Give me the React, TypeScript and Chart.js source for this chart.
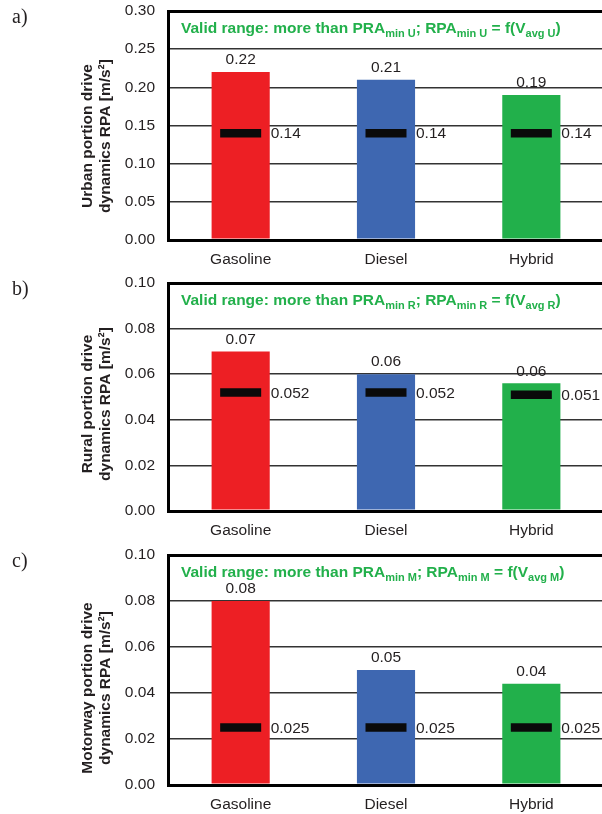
import React, { useEffect, useRef } from "react";
import { Chart, registerables } from "chart.js";

Chart.register(...registerables);

const categories = ["Gasoline", "Diesel", "Hybrid"];
const barColors = ["#ED1F24", "#3E67B1", "#22B04B"];

const urbanValues = [0.22, 0.21, 0.19];
const urbanMin = [0.14, 0.14, 0.14];
const ruralValues = [0.07, 0.06, 0.056];
const ruralMin = [0.052, 0.052, 0.051];
const motorwayValues = [0.08, 0.05, 0.044];
const motorwayMin = [0.025, 0.025, 0.025];

const urbanTitle = ["Urban portion drive", "dynamics RPA [m/s²]"];
const ruralTitle = ["Rural portion drive", "dynamics RPA [m/s²]"];
const motorwayTitle = ["Motorway portion drive", "dynamics RPA [m/s²]"];

const SANS = "'Liberation Sans', Arial, Helvetica, sans-serif";
const SERIF = "'Liberation Serif', 'Times New Roman', serif";
const TEXT = "#231f20";
const GREEN = "#22B04B";

type PanelProps = {
  top: number;
  height: number;
  padTop: number;
  xH: number;
  values: number[];
  mins: number[];
  yMax: number;
  step: number;
  dec: number;
  title: string[];
  titleY: number;
  sub: string;
  label: string;
};

function Panel(p: PanelProps) {
  const ref = useRef<HTMLCanvasElement | null>(null);
  useEffect(() => {
    const canvas = ref.current!;
    const overlay = {
      id: "overlay",
      afterDatasetsDraw(chart: any) {
        const ctx = chart.ctx as CanvasRenderingContext2D;
        const area = chart.chartArea;
        const barMeta = chart.getDatasetMeta(0);
        const minMeta = chart.getDatasetMeta(1);
        ctx.save();
        // value labels
        ctx.fillStyle = TEXT;
        ctx.font = `15.5px ${SANS}`;
        ctx.textAlign = "center";
        ctx.textBaseline = "middle";
        barMeta.data.forEach((bar: any, i: number) => {
          ctx.fillText(p.values[i].toFixed(2), bar.x, bar.y - 12);
        });
        ctx.textAlign = "left";
        minMeta.data.forEach((pt: any, i: number) => {
          ctx.fillText(String(p.mins[i]), pt.x + 30, pt.y + 1);
        });
        // green annotation
        let x = 181;
        const base = area.top + 22;
        ctx.fillStyle = GREEN;
        ctx.textBaseline = "alphabetic";
        const segs: [string, boolean][] = [
          ["Valid range: more than PRA", false],
          ["min " + p.sub, true],
          ["; RPA", false],
          ["min " + p.sub, true],
          [" = f(V", false],
          ["avg " + p.sub, true],
          [")", false],
        ];
        segs.forEach(([t, isSub]) => {
          ctx.font = isSub ? `bold 11px ${SANS}` : `bold 15.5px ${SANS}`;
          ctx.fillText(t, x, isSub ? base + 4 : base);
          x += ctx.measureText(t).width;
        });
        // y title
        ctx.fillStyle = TEXT;
        ctx.font = `bold 15.5px ${SANS}`;
        ctx.textAlign = "center";
        ctx.textBaseline = "middle";
        p.title.forEach((line, i) => {
          ctx.save();
          ctx.translate(88 + i * 17.5, p.titleY);
          ctx.rotate(-Math.PI / 2);
          ctx.fillText(line, 0, 0);
          ctx.restore();
        });
        // panel label
        ctx.font = `20px ${SERIF}`;
        ctx.textAlign = "left";
        ctx.textBaseline = "alphabetic";
        ctx.fillText(p.label, 12, area.top + 12);
        ctx.restore();
      },
    };
    const chart = new Chart(canvas, {
      type: "bar",
      data: {
        labels: categories,
        datasets: [
          {
            type: "bar",
            data: p.values,
            backgroundColor: barColors,
            barPercentage: 0.4,
            categoryPercentage: 1,
            order: 2,
          } as any,
          {
            type: "line",
            data: p.mins,
            showLine: false,
            pointStyle: "line",
            pointRadius: 20.5,
            pointHoverRadius: 20.5,
            pointBorderWidth: 8.5,
            pointBorderColor: "#0a0a0a",
            pointBackgroundColor: "#0a0a0a",
            clip: false,
            order: 1,
          } as any,
        ],
      },
      options: {
        responsive: false,
        animation: false,
        events: [],
        layout: { autoPadding: false, padding: { top: p.padTop, left: 0, right: 0, bottom: 0 } },
        plugins: { legend: { display: false }, tooltip: { enabled: false } },
        scales: {
          x: {
            grid: { display: false, drawTicks: false },
            border: { display: false },
            ticks: { color: TEXT, font: { family: SANS, size: 15.5 }, padding: 10 },
            afterFit: (s: any) => {
              s.height = p.xH;
              s.paddingLeft = 0;
              s.paddingRight = 0;
            },
          },
          y: {
            min: 0,
            max: p.yMax,
            ticks: {
              stepSize: p.step,
              color: TEXT,
              font: { family: SANS, size: 15.5 },
              padding: 13,
              callback: (v: any) => Number(v).toFixed(p.dec),
            },
            grid: {
              drawTicks: false,
              color: (c: any) =>
                c.tick && (Math.abs(c.tick.value) < 1e-9 || Math.abs(c.tick.value - p.yMax) < 1e-9)
                  ? "#000"
                  : "#333333",
              lineWidth: (c: any) =>
                c.tick && (Math.abs(c.tick.value) < 1e-9 || Math.abs(c.tick.value - p.yMax) < 1e-9)
                  ? 3
                  : 1.5,
            },
            border: { color: "#000", width: 3 },
            afterFit: (s: any) => {
              s.width = 168;
              s.paddingTop = 0;
              s.paddingBottom = 0;
            },
          },
        },
      } as any,
      plugins: [overlay],
    });
    return () => chart.destroy();
  }, []);
  return (
    <canvas
      ref={ref}
      width={604}
      height={p.height}
      style={{ position: "absolute", left: 0, top: p.top, width: 604, height: p.height }}
    />
  );
}

export default function App() {
  return (
    <div
      style={{
        position: "absolute",
        left: 0,
        top: 0,
        width: 602,
        height: 814,
        overflow: "hidden",
        background: "#fff",
      }}
    >
      <Panel top={0} height={270} padTop={11} xH={30} values={urbanValues} mins={urbanMin}
        yMax={0.3} step={0.05} dec={2} title={urbanTitle} titleY={136} sub="U" label="a)" />
      <Panel top={270} height={270} padTop={13} xH={29} values={ruralValues} mins={ruralMin}
        yMax={0.1} step={0.02} dec={2} title={ruralTitle} titleY={134} sub="R" label="b)" />
      <Panel top={540} height={274} padTop={15} xH={29} values={motorwayValues} mins={motorwayMin}
        yMax={0.1} step={0.02} dec={2} title={motorwayTitle} titleY={148} sub="M" label="c)" />
    </div>
  );
}
